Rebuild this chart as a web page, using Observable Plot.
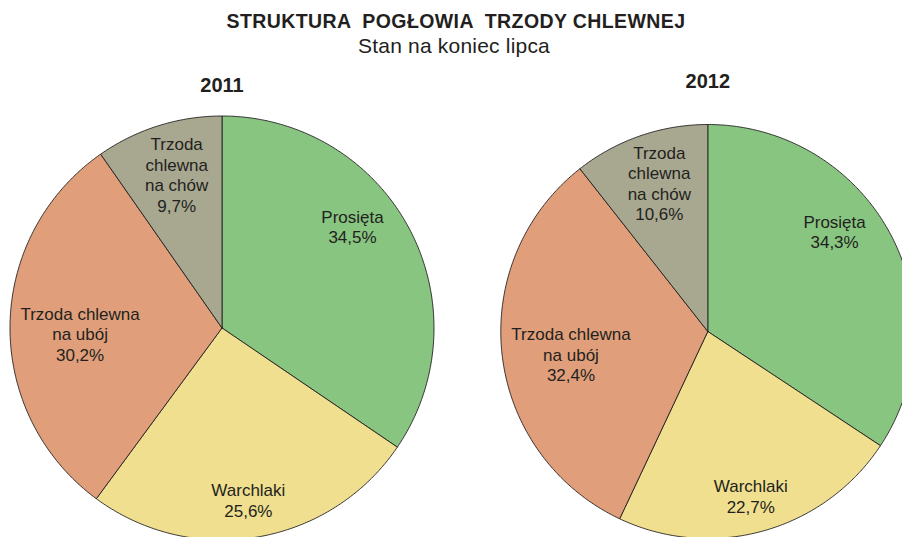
<!DOCTYPE html>
<html><head><meta charset="utf-8">
<script src="https://cdn.jsdelivr.net/npm/d3@7"></script>
<script src="https://cdn.jsdelivr.net/npm/@observablehq/plot@0.6"></script>
<style>
html,body{margin:0;padding:0;background:#fff;overflow:hidden;width:902px;height:537px}
#header{height:60px;position:relative;font-family:"Liberation Sans",Arial,sans-serif;color:#231f20;text-align:center}
#title{position:absolute;left:10px;right:0;top:9px;font-size:19.5px;font-weight:bold;line-height:24px;letter-spacing:0.4px;white-space:pre}
#subtitle{position:absolute;left:6px;right:0;top:34px;font-size:21px;line-height:24px;letter-spacing:0.2px}
#chart svg{display:block}
</style></head><body>
<div id="header"><div id="title">STRUKTURA  POGŁOWIA  TRZODY CHLEWNEJ</div><div id="subtitle">Stan na koniec lipca</div></div>
<div id="chart"></div>
<script>
// ---- data ----
const categories = ["Prosięta", "Warchlaki", "Trzoda chlewna na ubój", "Trzoda chlewna na chów"];
const labelText = ["Prosięta", "Warchlaki", "Trzoda chlewna\nna ubój", "Trzoda\nchlewna\nna chów"];
const years = ["2011", "2012"];
const values2011 = [34.5, 25.6, 30.2, 9.7];
const values2012 = [34.3, 22.7, 32.4, 10.6];
const colors = ["#88c580", "#f0df8f", "#e09f7a", "#a8a890"];

// ---- layout (page pixels) ----
const pieLayout = [
  {cx: 221.5, cy: 327.5, r: 212, yearY: 85},
  {cx: 707.3, cy: 331, r: 207, yearY: 81}
];
// label placement relative to each slice: fraction of radius and angle nudge (deg)
const labelPlace = [
  {rf: 0.78, da: -10},
  {rf: 0.82, da: 1},
  {rf: 0.67, da: -3},
  {rf: 0.755, da: 1}
];

const series = [values2011, values2012];
const slicePts = [];
const labels = [];
const yearLabels = [];
series.forEach((vals, yi) => {
  const {cx, cy, r, yearY} = pieLayout[yi];
  const total = d3.sum(vals);
  let a0 = 0;
  vals.forEach((v, i) => {
    const a1 = a0 + v / total * 2 * Math.PI;
    const key = years[yi] + "|" + categories[i];
    const n = Math.max(2, Math.ceil((a1 - a0) / (Math.PI / 360)));
    slicePts.push({key, cat: categories[i], x: cx, y: cy});
    for (let k = 0; k <= n; k++) {
      const a = a0 + (a1 - a0) * k / n;
      slicePts.push({key, cat: categories[i], x: cx + r * Math.sin(a), y: cy - r * Math.cos(a)});
    }
    slicePts.push({key, cat: categories[i], x: cx, y: cy});
    const mid = (a0 + a1) / 2 + labelPlace[i].da * Math.PI / 180;
    const lr = r * labelPlace[i].rf;
    labels.push({
      x: cx + lr * Math.sin(mid),
      y: cy - lr * Math.cos(mid),
      text: labelText[i] + "\n" + v.toFixed(1).replace(".", ",") + "%"
    });
    a0 = a1;
  });
  yearLabels.push({x: cx, y: yearY, text: years[yi]});
});

const W = 902, H = 477, top0 = 60;
const chart = Plot.plot({
  width: W,
  height: H,
  margin: 0,
  x: {domain: [0, W], range: [0, W], axis: null},
  y: {domain: [top0, top0 + H], range: [0, H], axis: null},
  color: {domain: categories, range: colors},
  style: {fontFamily: '"Liberation Sans", Arial, sans-serif', background: "white", overflow: "hidden"},
  marks: [
    Plot.line(slicePts, {x: "x", y: "y", z: "key", fill: "cat", stroke: "#231f20", strokeWidth: 0.9, strokeLinejoin: "round"}),
    Plot.text(labels, {x: "x", y: "y", text: "text", fontSize: 17, lineHeight: 1.21, fill: "#231f20", textAnchor: "middle", lineAnchor: "middle"}),
    Plot.text(yearLabels, {x: "x", y: "y", text: "text", fontSize: 20, fontWeight: "bold", fill: "#231f20", textAnchor: "middle", lineAnchor: "middle"})
  ]
});
document.getElementById("chart").appendChild(chart);
</script>
</body></html>
